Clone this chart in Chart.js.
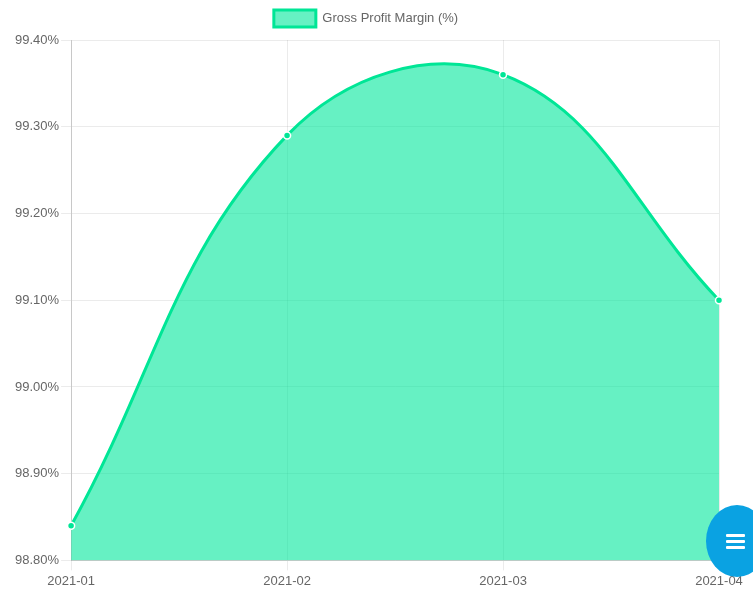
<!DOCTYPE html>
<html>
<head>
<meta charset="utf-8">
<script src="https://cdn.jsdelivr.net/npm/chart.js@4.4.0/dist/chart.umd.min.js"></script>
<style>
  html, body { margin: 0; padding: 0; background: #fff; overflow: hidden; }
  #wrap { position: relative; width: 753px; height: 592px; }
  #fab { position: absolute; left: 706px; top: 505px; width: 62px; height: 72px; border-radius: 50%;
         background: #0aa2e2; }
  #fab span { position: absolute; left: 20px; width: 19px; height: 3px; background: #fff; border-radius: 1px; }
</style>
</head>
<body>
<div id="wrap">
  <canvas id="c" width="753" height="592"></canvas>
  <div id="fab"><span style="top:29px"></span><span style="top:35px"></span><span style="top:41px"></span></div>
</div>
<script>
const categories = ["2021-01", "2021-02", "2021-03", "2021-04"];
const grossProfitMargin = [98.84, 99.29, 99.36, 99.10];
const seriesLabel = "Gross Profit Margin (%)";

const FONT = "'Liberation Sans', Arial, sans-serif";
Chart.defaults.font.family = FONT;
Chart.defaults.font.size = 13;
Chart.defaults.color = "#666";

const legendMargin = {
  id: "legendMargin",
  beforeInit(chart) {
    const orig = chart.legend.fit;
    chart.legend.fit = function () { orig.call(this); this.height += 3; };
  }
};

new Chart(document.getElementById("c"), {
  type: "line",
  data: {
    labels: categories,
    datasets: [{
      label: seriesLabel,
      data: grossProfitMargin,
      borderColor: "rgb(0,230,150)",
      backgroundColor: "rgba(0,232,155,0.6)",
      borderWidth: 3,
      fill: true,
      tension: 0.4,
      pointRadius: 3.5,
      pointBackgroundColor: "rgb(0,230,150)",
      pointBorderColor: "#fff",
      pointBorderWidth: 1.5
    }]
  },
  plugins: [legendMargin],
  options: {
    responsive: false,
    animation: false,
    layout: { padding: { left: 13, right: 34, top: 0, bottom: 0 } },
    plugins: {
      legend: {
        labels: { boxWidth: 42, boxHeight: 17, padding: 10, color: "#666" }
      },
      tooltip: { enabled: false }
    },
    scales: {
      x: {
        grid: { color: "rgba(0,0,0,0.08)", tickLength: 10 },
        border: { color: "rgba(0,0,0,0.15)" },
        ticks: { padding: 3, maxRotation: 0 }
      },
      y: {
        min: 98.8,
        max: 99.4,
        grid: { color: "rgba(0,0,0,0.08)", tickLength: 10 },
        border: { color: "rgba(0,0,0,0.15)" },
        ticks: {
          stepSize: 0.1,
          padding: 2,
          callback: v => v.toFixed(2) + "%"
        }
      }
    }
  }
});
</script>
</body>
</html>
